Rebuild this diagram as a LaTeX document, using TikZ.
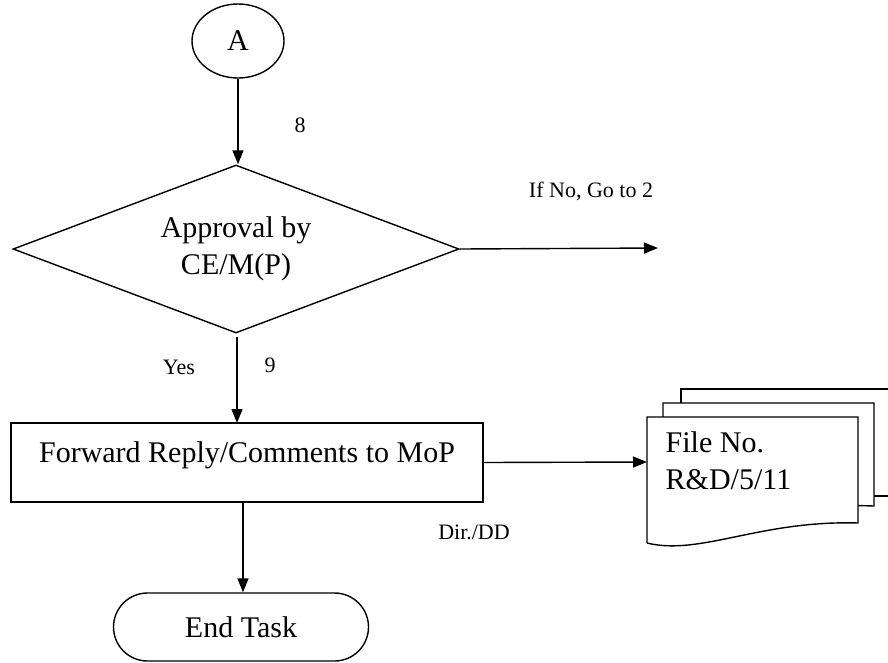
\documentclass[tikz,border=0pt]{standalone}
\usepackage{fontspec}
\setmainfont{Liberation Serif}
\usetikzlibrary{shapes.geometric,arrows.meta}
\begin{document}
\begin{tikzpicture}[x=1pt,y=-1pt,line width=1.4pt,
  big/.style={font=\fontsize{30}{37}\selectfont},
  small/.style={font=\fontsize{22}{26}\selectfont,inner sep=0pt},
  arr/.style={-{Triangle[length=14pt,width=11pt]}},
  docshape/.style={draw,fill=white,line width=1.4pt}]
\useasboundingbox (0,0) rectangle (888,662);
\begin{scope}
\clip (0,0) rectangle (888,662);
\node[draw,ellipse,big,minimum width=92pt,minimum height=74pt,inner sep=0pt] (A) at (238,41) {A};
\node[draw,diamond,big,aspect=2.655,minimum width=446pt,minimum height=168pt,inner sep=0pt,align=center] (D) at (236,249) {Approval by\\CE/M(P)};
\node[draw,rectangle,big,minimum width=472pt,minimum height=79pt,inner sep=0pt,text height=20pt,text depth=21pt] (P) at (247,462.5) {Forward Reply/Comments to MoP};
\node[draw,rectangle,rounded corners=34pt,big,minimum width=255pt,minimum height=68pt,inner sep=0pt] (E) at (241,627) {End Task};
% multi-document
\draw[docshape] (681,496) -- (681,389) -- (900,389) -- (900,496) -- cycle;
\draw[docshape] (663,520) -- (663,403) -- (874,403) -- (874,506) .. controls (790,503) and (720,516) .. (663,520);
\draw[docshape] (647,543) -- (647,417) -- (858,417) -- (858,523) .. controls (760,520) and (700,556) .. (647,543);
\node[big,anchor=west,align=left,inner sep=0pt] (F) at (665,461) {File No.\\R\&D/5/11};
\coordinate (docW) at (647,462);
\coordinate (noEnd) at (658,248);
% labels
\node[small] (l8) at (300,125) {8};
\node[small] (lno) at (591,191) {If No, Go to 2};
\node[small] (lyes) at (179,367) {Yes};
\node[small] (l9) at (270,365) {9};
\node[small] (ldir) at (474,532) {Dir./DD};
% connectors
\draw[arr] (A.south) -- (A.south |- D.north);
\draw[arr] (D.east) -- (noEnd);
\draw[arr,shorten <=4pt] (237,333) -- (237,423);
\draw[arr] (P.east) -- (docW);
\draw[arr] (243,502) -- (E.north -| 243,0);
\end{scope}
\end{tikzpicture}
\end{document}
